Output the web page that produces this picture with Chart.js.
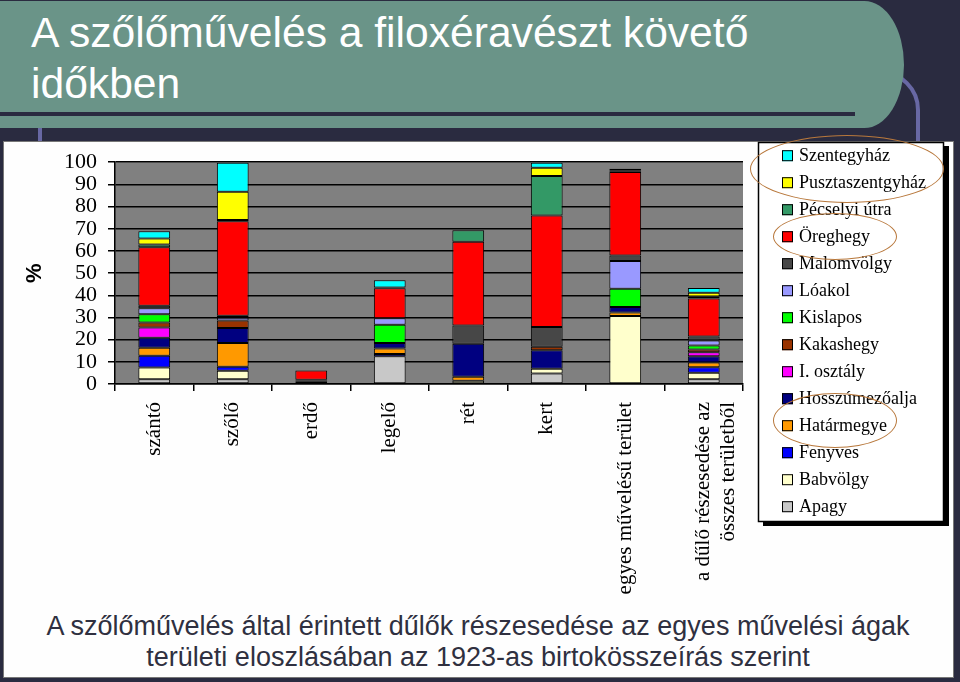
<!DOCTYPE html>
<html lang="hu">
<head>
<meta charset="utf-8">
<title>A szőlőművelés a filoxéravészt követő időkben</title>
<script src="https://cdn.jsdelivr.net/npm/chart.js@4.4.1/dist/chart.umd.min.js"></script>
<style>
  html, body { margin: 0; padding: 0; }
  body { width: 960px; height: 682px; background: #2a2b40; position: relative; overflow: hidden;
         font-family: 'Liberation Sans', Arial, sans-serif; }
  #frame { position: absolute; left: 38px; top: 70px; width: 874px; height: 590px;
           border: 4px solid #6868a4; border-radius: 40px; }
  #titlebox { position: absolute; left: 0; top: 1px; width: 904px; height: 127px; background: #6a9488;
              border-radius: 0 40px 40px 0 / 0 64px 64px 0; }
  #titlebox .rule { position: absolute; left: 0; top: 111px; width: 855px; height: 4px; background: #2a2b40; }
  #title { position: absolute; left: 31px; top: 7px; margin: 0; font-size: 42.6px; line-height: 51px;
           font-weight: normal; color: #fff; }
  #panel { position: absolute; left: 3px; top: 141px; width: 949px; height: 535px; background: #fefefe;
           border: 1px solid #777; }
  #chartbox { position: absolute; left: 0; top: 138px; width: 960px; height: 470px; }
  #caption { position: absolute; left: 0; width: 956px; top: 611px; text-align: center; font-size: 27px;
             line-height: 31px; color: #2f3040; }
  .ring { position: absolute; border: 1.5px solid #b8783c; border-radius: 50%; }
</style>
</head>
<body>
<div id="frame"></div>
<div id="titlebox"><div class="rule"></div></div>
<h1 id="title">A szőlőművelés a filoxéravészt követő<br>időkben</h1>
<div id="panel"></div>
<div id="chartbox"><canvas id="chart" width="960" height="470"></canvas></div>
<div id="caption">A szőlőművelés által érintett dűlők részesedése az egyes művelési ágak<br>területi eloszlásában az 1923-as birtokösszeírás szerint</div>
<div class="ring" style="left:750px;top:135px;width:192px;height:66px"></div>
<div class="ring" style="left:773px;top:213px;width:122px;height:45px"></div>
<div class="ring" style="left:773px;top:393px;width:122px;height:53px"></div>

<script>
// művelési ágak (x tengely)
const categories = ['szántó', 'szőlő', 'erdő', 'legelő', 'rét', 'kert',
    'egyes művelésű terület', ['a dűlő részesedése az', 'összes területből']];

// dűlők, alulról felfelé halmozva (%)
const apagy          = [2.1,  2.1,  0,   12.5, 0,    4.7,  0,    2.1];
const babvolgy       = [5.3,  3.9,  0,   0,    1.5,  2.2,  30.7, 3.0];
const fenyves        = [5.3,  1.8,  0,   1.0,  0,    0,    0,    2.4];
const hatarmegye     = [3.6,  10.7, 0,   2.5,  1.8,  0,    1.5,  2.2];
const hosszumezoalja = [4.5,  6.8,  1.0, 2.5,  14.8, 8.3,  2.5,  2.8];
const iosztaly       = [4.7,  0,    0,   0,    0,    0,    0,    1.8];
const kakashegy      = [2.2,  3.3,  0,   0,    0,    1.6,  0,    1.2];
const kislapos       = [3.7,  0,    0,   8.2,  0,    0,    8.3,  1.9];
const loakol         = [2.7,  1.3,  0.6, 3.0,  0,    0,    12.5, 2.2];
const malomvolgy     = [1.2,  0.9,  0.3, 0,    8.3,  8.9,  2.4,  1.8];
const oreghegy       = [26.3, 42.6, 4.2, 13.5, 37.7, 50.3, 37.7, 17.1];
const pecselyi       = [1.3,  0.5,  0,   0,    5.2,  17.8, 0.3,  1.0];
const pusztaszent    = [2.7,  12.8, 0,   0.3,  0,    3.7,  0.3,  1.6];
const szentegyhaz    = [3.3,  13.1, 0,   3.3,  0,    2.2,  0.9,  2.2];

const seriesNames = ['Apagy', 'Babvölgy', 'Fenyves', 'Határmegye', 'Hosszúmezőalja', 'I. osztály',
    'Kakashegy', 'Kislapos', 'Lóakol', 'Malomvölgy', 'Öreghegy', 'Pécselyi útra',
    'Pusztaszentgyház', 'Szentegyház'];
const seriesData = [apagy, babvolgy, fenyves, hatarmegye, hosszumezoalja, iosztaly, kakashegy,
    kislapos, loakol, malomvolgy, oreghegy, pecselyi, pusztaszent, szentegyhaz];
const seriesColors = ['#c8c8c8', '#ffffcc', '#0000ff', '#ff9900', '#000080', '#ff00ff', '#993300',
    '#00ff00', '#9999ff', '#474747', '#ff0000', '#339966', '#ffff00', '#00ffff'];

const yTicks = { min: 0, max: 100, step: 10 };

const serif = "'Liberation Serif', 'Times New Roman', serif";

// szürke rajzterület + keretes jelmagyarázat árnyékkal
const slideLook = {
    id: 'slideLook',
    beforeDraw(chart) {
        const { ctx, chartArea: a } = chart;
        ctx.save();
        ctx.fillStyle = '#808080';
        ctx.fillRect(a.left, a.top, a.right - a.left, a.bottom - a.top);
        ctx.restore();
    },
    afterDraw(chart) {
        const ctx = chart.ctx;
        const bx = 758, by = 4, bw = 186, bh = 380;
        ctx.save();
        ctx.fillStyle = '#000';
        ctx.fillRect(bx + 5, by + 4, bw, bh);
        ctx.fillStyle = '#fff';
        ctx.fillRect(bx, by, bw, bh);
        ctx.strokeStyle = '#000';
        ctx.lineWidth = 1.5;
        ctx.strokeRect(bx + 0.5, by + 0.5, bw - 1, bh - 1);

        ctx.font = '18px ' + serif;
        ctx.textBaseline = 'middle';
        ctx.textAlign = 'left';
        const items = chart.data.datasets.slice().reverse();
        items.forEach((ds, i) => {
            const cy = 17.7 + 27 * i;
            ctx.fillStyle = ds.backgroundColor;
            ctx.fillRect(782, cy - 5.5, 11, 11);
            ctx.lineWidth = 1;
            ctx.strokeRect(782.5, cy - 5, 10, 10);
            ctx.fillStyle = '#000';
            ctx.fillText(ds.label, 799, cy + 1);
        });
        ctx.restore();
    }
};

new Chart(document.getElementById('chart'), {
    type: 'bar',
    data: {
        labels: categories,
        datasets: seriesNames.map((name, i) => ({
            label: name,
            data: seriesData[i],
            backgroundColor: seriesColors[i]
        }))
    },
    options: {
        responsive: false,
        animation: false,
        layout: { padding: { left: 0, right: 217, top: 22, bottom: 0 } },
        datasets: {
            bar: {
                categoryPercentage: 1,
                barPercentage: 0.405,
                borderColor: '#000',
                borderWidth: 1,
                borderSkipped: false
            }
        },
        plugins: {
            legend: { display: false },
            tooltip: { enabled: false }
        },
        scales: {
            x: {
                stacked: true,
                grid: { drawOnChartArea: false, color: '#000', lineWidth: 1.5, tickLength: 7 },
                border: { color: '#000', width: 1.5 },
                ticks: {
                    color: '#000',
                    font: { family: serif, size: 21 },
                    minRotation: 90,
                    maxRotation: 90,
                    autoSkip: false,
                    padding: 11
                },
                afterFit(scale) { scale.height = 224; }
            },
            y: {
                stacked: true,
                min: yTicks.min,
                max: yTicks.max,
                ticks: {
                    stepSize: yTicks.step,
                    autoSkip: false,
                    color: '#000',
                    font: { family: serif, size: 22 },
                    padding: 11
                },
                grid: { color: '#000', lineWidth: 1.5, tickLength: 7 },
                border: { color: '#000', width: 1.5 },
                title: {
                    display: true,
                    text: '%',
                    color: '#000',
                    font: { family: "'Liberation Sans', Arial, sans-serif", size: 22, weight: 'bold' },
                    padding: { top: 22, bottom: 0 }
                },
                afterFit(scale) { scale.width = 115; }
            }
        }
    },
    plugins: [slideLook]
});
</script>
</body>
</html>
